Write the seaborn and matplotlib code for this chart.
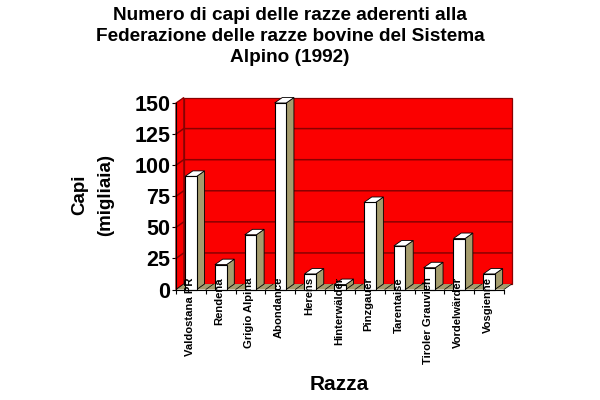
import numpy as np
import pandas as pd
import matplotlib
matplotlib.use('Agg')
import matplotlib.pyplot as plt
from matplotlib.patches import Polygon
import seaborn as sns

razze = ['Valdostana PR', 'Rendena', 'Grigio Alpina', 'Abondance', 'Herens',
         'Hinterwälder', 'Pinzgauer', 'Tarentaise', 'Tiroler Grauvieh',
         'Vordelwärder', 'Vosgienne']
capi = [91, 20, 44, 150, 12.5, 4, 70, 35, 17.5, 41, 12.5]
y_ticks = [0, 25, 50, 75, 100, 125, 150]

RED = '#fb0000'
GRID = '#8a0000'
OLIVE = '#a59c6e'
# depth of the fake 3D, in data units
DX = 0.26
DY = 4.4

sns.set_style('white')
plt.rcParams['font.family'] = ['Liberation Sans', 'DejaVu Sans']
plt.rcParams['font.weight'] = 'bold'
plt.rcParams['text.color'] = 'black'
plt.rcParams['xtick.color'] = 'black'
plt.rcParams['ytick.color'] = 'black'

df = pd.DataFrame({'Razza': razze, 'Capi': capi})

fig = plt.figure(figsize=(6, 4), dpi=100)
ax = fig.add_axes([176 / 600, 1 - 289.5 / 400, 328 / 600, 186.5 / 400])

sns.barplot(data=df, x='Razza', y='Capi', color='white', saturation=1,
            width=0.39, edgecolor='black', linewidth=0.8, ax=ax, zorder=6)

x0, x1 = -0.5, len(razze) - 0.5
ax.set_xlim(x0, x1)
ax.set_ylim(0, 150)


def poly(pts, face, edge='black', lw=0.6, z=2):
    ax.add_patch(Polygon(pts, closed=True, facecolor=face, edgecolor=edge,
                         linewidth=lw, zorder=z, clip_on=False))


top = y_ticks[-1]

# walls and floor
poly([(x0 + DX, DY), (x1 + DX, DY), (x1 + DX, top + DY), (x0 + DX, top + DY)], RED, edge=GRID, lw=0.9)
poly([(x0, 0), (x0 + DX, DY), (x0 + DX, top + DY), (x0, top)], RED, edge=GRID, lw=0.9)
poly([(x0, 0), (x1, 0), (x1 + DX, DY), (x0 + DX, DY)], OLIVE, edge='none')

# gridlines on the walls
for v in y_ticks[1:-1]:
    ax.plot([x0, x0 + DX, x1 + DX], [v, v + DY, v + DY], color=GRID, lw=1.1,
            zorder=3, clip_on=False)

# diagonal marks on the floor
for b in np.arange(x0, x1 + 1):
    ax.plot([b, b + DX], [0, DY], color='black', lw=0.5, zorder=4, clip_on=False)

# sides and tops of the bars
for bar in ax.patches[:len(razze)]:
    left = bar.get_x()
    right = left + bar.get_width()
    h = bar.get_height()
    poly([(right, 0), (right + DX, DY), (right + DX, h + DY), (right, h)], OLIVE, z=5)
    poly([(left, h), (left + DX, h + DY), (right + DX, h + DY), (right, h)], 'white', z=5)
    bar.set_clip_on(False)

for s in ['top', 'right']:
    ax.spines[s].set_visible(False)
for s in ['left', 'bottom']:
    ax.spines[s].set_color('black')
    ax.spines[s].set_linewidth(0.8)
    ax.spines[s].set_zorder(7)

ax.set_yticks(y_ticks)
ax.tick_params(axis='y', length=3, width=0.8, left=True, pad=1, labelsize=15.5)
ax.set_xticks(np.arange(x0, x1 + 1))
ax.set_xticklabels([])
ax.tick_params(axis='x', which='major', length=3, width=0.8, bottom=True)
ax.set_xticks(np.arange(len(razze)) - 0.04, labels=razze, minor=True)
ax.tick_params(axis='x', which='minor', length=0, pad=-9, labelsize=8.1, rotation=90)
# labels sit on top of the floor and the bars
ax.xaxis.set_zorder(9)

ax.set_xlabel('')
ax.set_ylabel('')

fig.text(290 / 600, 1 - 36.5 / 400, 'Numero di capi delle razze aderenti alla\n'
         'Federazione delle razze bovine del Sistema\nAlpino (1992)',
         ha='center', va='center', fontsize=13.7, linespacing=1.3)
fig.text(92.5 / 600, 1 - 195 / 400, 'Capi\n(migliaia)', rotation=90, ha='center',
         va='center', fontsize=13.5, linespacing=1.65, multialignment='center')
fig.text(339 / 600, 1 - 384 / 400, 'Razza', ha='center', va='center', fontsize=15)

fig.savefig('out.png', dpi=100, facecolor='white')
